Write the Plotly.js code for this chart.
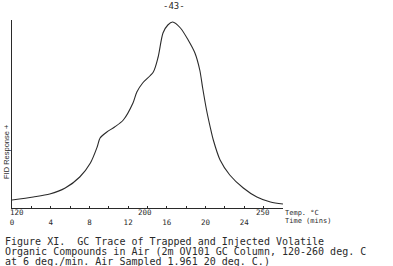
<!DOCTYPE html>
<html>
<head>
<meta charset="utf-8">
<script src="https://cdn.plot.ly/plotly-3.0.1.min.js"></script>
<style>html,body{margin:0;padding:0;background:#fff;}#chart{width:393px;height:266px;}</style>
</head>
<body>
<div id="chart"></div>
<script>
// Retention time (minutes) and FID response (relative units)
const timeMin = [0, 2.2, 3.9, 5.5, 7.0, 8.1, 8.8, 9.1, 9.8, 10.6, 11.5, 12.5, 12.9, 13.5, 14.6, 15.1, 15.6, 16.1, 16.6, 17.4, 18.2, 18.9, 19.4, 19.7, 20.1, 20.5, 20.8, 21.5, 22.5, 23.9, 25.3, 26.7, 28.0];
const response = [8, 11, 14, 20, 31, 45, 61, 70, 76, 81, 88, 105, 116, 125, 136, 151, 175, 183, 186, 180, 168, 155, 138, 120, 98, 80, 68, 48, 33, 20, 11, 6, 4];
// Time axis ticks
const timeTicks = [0, 2, 4, 6, 8, 10, 12, 14, 16, 18, 20, 22, 24, 26, 28];
const timeTickText = ["0", "", "4", "", "8", "", "12", "", "16", "", "20", "", "24", "", ""];
// Temperature scale labels (deg C) and the times where they sit
const tempLabels = ["120", "200", "250"];
const tempTimes = [0, 13.7, 25.9];
const captionLines = [
  "Figure XI.  GC Trace of Trapped and Injected Volatile",
  "Organic Compounds in Air (2m OV101 GC Column, 120-260 deg. C",
  "at 6 deg./min. Air Sampled 1.961 20 deg. C.)"
];

const ink = '#2a2a2a';
const annotations = [];
tempLabels.forEach((t, i) => {
  annotations.push({
    text: t, x: tempTimes[i], xref: 'x', y: 0, yref: 'paper',
    xanchor: i === 0 ? 'left' : 'center', xshift: i === 0 ? -4 : 0, yanchor: 'middle', yshift: -4.5,
    showarrow: false, font: {family: 'DejaVu Sans Mono', size: 7.5, color: ink}
  });
});
annotations.push({text: 'Temp. °C', x: 1, xref: 'paper', y: 0, yref: 'paper', xanchor: 'left', yanchor: 'middle', yshift: -4.5, showarrow: false, font: {family: 'DejaVu Sans Mono', size: 7, color: ink}});
annotations.push({text: 'Time (mins)', x: 1, xref: 'paper', y: 0, yref: 'paper', xanchor: 'left', yanchor: 'middle', yshift: -13, showarrow: false, font: {family: 'DejaVu Sans Mono', size: 7, color: ink}});
annotations.push({text: 'FID Response +', x: 0, xref: 'paper', xshift: -6, y: 56, yref: 'y', xanchor: 'center', yanchor: 'middle', textangle: -90, showarrow: false, font: {family: 'Liberation Sans', size: 7.5, color: ink}});
annotations.push({text: '-43-', x: 0.598, xref: 'paper', y: 1, yref: 'paper', yshift: 14, xanchor: 'center', yanchor: 'middle', showarrow: false, font: {family: 'DejaVu Sans Mono', size: 9, color: ink}});
const capShift = [-33, -43.5, -53];
captionLines.forEach((line, i) => {
  annotations.push({
    text: line, x: 0, xref: 'paper', xshift: -9, y: 0, yref: 'paper', yshift: capShift[i],
    xanchor: 'left', yanchor: 'middle', showarrow: false,
    font: {family: 'DejaVu Sans Mono', size: 10, color: ink}
  });
});

const trace = {
  x: timeMin, y: response, type: 'scatter', mode: 'lines',
  line: {color: ink, width: 1.1, shape: 'spline', smoothing: 0.8},
  hoverinfo: 'skip'
};

const layout = {
  width: 393, height: 266,
  margin: {l: 12, r: 110, t: 20, b: 58, pad: 0},
  paper_bgcolor: '#fff', plot_bgcolor: '#fff',
  showlegend: false,
  xaxis: {
    range: [0, 28], showline: true, linecolor: ink, linewidth: 1,
    showgrid: false, zeroline: false,
    tickmode: 'array', tickvals: timeTicks, ticktext: timeTickText,
    ticks: 'inside', ticklen: 2, tickcolor: ink, tickwidth: 1,
    ticklabelstandoff: 7,
    tickfont: {family: 'DejaVu Sans Mono', size: 7.5, color: ink},
    fixedrange: true
  },
  yaxis: {
    range: [0, 188], showline: true, linecolor: ink, linewidth: 1,
    showgrid: false, zeroline: false, showticklabels: false, ticks: '',
    fixedrange: true
  },
  annotations: annotations
};

Plotly.newPlot('chart', [trace], layout, {displayModeBar: false, staticPlot: true});
</script>
</body>
</html>
